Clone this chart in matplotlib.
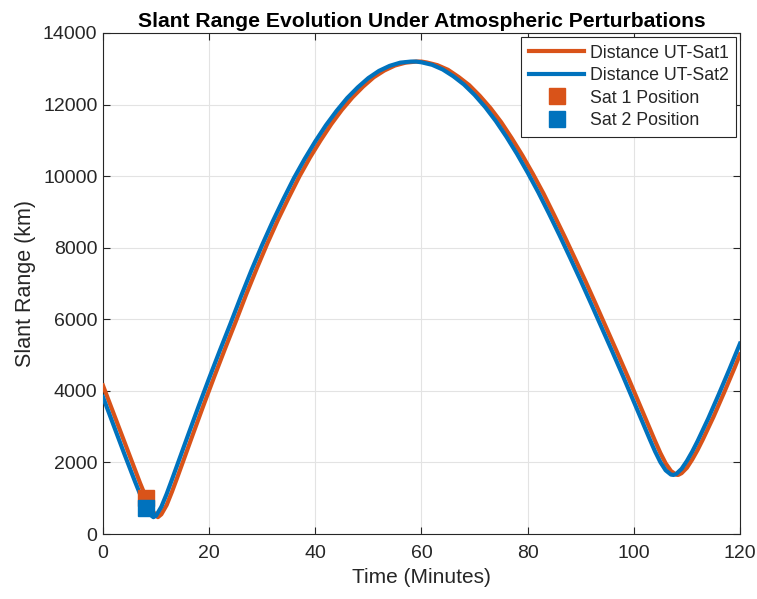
import matplotlib
matplotlib.use('Agg')
import matplotlib.pyplot as plt

# Time (minutes) and slant range (km) for UT-Sat2 (blue)
t_sat2 = [0, 2, 4, 6, 7, 8, 9, 9.5, 10, 11, 12, 13, 14, 16, 18, 20, 22, 24, 26, 28,
          30, 32, 34, 36, 38, 40, 42, 44, 46, 48, 50, 52, 54, 56, 58, 59, 60,
          62, 64, 66, 68, 70, 72, 74, 76, 78, 80, 82, 84, 86, 88, 90, 92, 94, 96,
          98, 100, 101, 102, 103, 104, 105, 106, 107, 107.5, 108, 109, 110, 111, 112,
          114, 116, 118, 120]
r_sat2 = [3830, 3040, 2250, 1480, 1110, 770, 530, 470, 510, 760, 1120, 1520, 1930, 2750, 3560, 4350, 5120, 5870, 6640, 7380,
          8080, 8740, 9360, 9950, 10480, 10970, 11420, 11820, 12180, 12480, 12740, 12940, 13080, 13170, 13200, 13200, 13180,
          13110, 12980, 12790, 12560, 12270, 11930, 11540, 11100, 10620, 10100, 9550, 8960, 8350, 7720, 7080, 6420, 5750, 5080,
          4400, 3700, 3350, 3000, 2650, 2310, 2010, 1780, 1660, 1650, 1680, 1820, 2040, 2300, 2590,
          3220, 3900, 4600, 5320]

# Time (minutes) and slant range (km) for UT-Sat1 (orange)
t_sat1 = [0, 2, 4, 6, 7, 8, 9, 10, 10.35, 11, 12, 13, 14, 15, 17, 19, 21, 23, 25, 27,
          29, 31, 33, 35, 37, 39, 41, 43, 45, 47, 49, 51, 53, 55, 57, 59, 60,
          61, 63, 65, 67, 69, 71, 73, 75, 77, 79, 81, 83, 85, 87, 89, 91, 93, 95,
          97, 99, 101, 102, 103, 104, 105, 106, 107, 108, 108.35, 109, 110, 111, 112,
          113, 115, 117, 119, 120]
r_sat1 = [4150, 3370, 2590, 1810, 1420, 1060, 730, 510, 470, 550, 810, 1180, 1580, 1990, 2810, 3620, 4410, 5180, 5930, 6700,
          7430, 8130, 8790, 9400, 9990, 10520, 11000, 11450, 11850, 12200, 12500, 12760, 12950, 13090, 13170, 13200, 13200,
          13175, 13100, 12970, 12770, 12540, 12240, 11900, 11510, 11060, 10580, 10060, 9510, 8910, 8300, 7670, 7030, 6370, 5700,
          5030, 4350, 3650, 3300, 2950, 2600, 2265, 1975, 1760, 1657, 1650, 1700, 1850, 2080, 2345,
          2640, 3270, 3950, 4650, 5020]

# satellite position markers
sat1_pos = (8.2, 1000)
sat2_pos = (8.2, 720)

orange = '#D95319'
blue = '#0072BD'
axcol = '#262626'

plt.rcParams['font.family'] = ['Liberation Sans', 'DejaVu Sans']

fig = plt.figure(figsize=(7.57, 5.99), dpi=100)
ax = fig.add_axes([0.136, 0.1085, 0.8415, 0.8365])

ax.plot(t_sat1, r_sat1, color=orange, linewidth=3, label='Distance UT-Sat1', zorder=3)
ax.plot(t_sat2, r_sat2, color=blue, linewidth=3, label='Distance UT-Sat2', zorder=4)
ax.plot([sat1_pos[0]], [sat1_pos[1]], 's', color=orange, markersize=11, label='Sat 1 Position', zorder=5)
ax.plot([sat2_pos[0]], [sat2_pos[1]], 's', color=blue, markersize=11, label='Sat 2 Position', zorder=6)

ax.set_xlim(0, 120)
ax.set_ylim(0, 14000)
ax.set_xticks(range(0, 121, 20))
ax.set_yticks(range(0, 14001, 2000))

ax.grid(True, color='#E3E3E3', linewidth=0.8)
ax.set_axisbelow(True)
for s in ax.spines.values():
    s.set_color(axcol)
    s.set_linewidth(0.8)
ax.tick_params(direction='in', top=True, right=True, colors=axcol, labelsize=14,
               length=5, width=0.8, pad=4)
ax.tick_params(axis='x', pad=8)
for lab in ax.get_xticklabels() + ax.get_yticklabels():
    lab.set_color(axcol)

ax.set_xlabel('Time (Minutes)', fontsize=15, color=axcol, labelpad=4)
ax.set_ylabel('Slant Range (km)', fontsize=15.5, color=axcol, labelpad=5)
ax.set_title('Slant Range Evolution Under Atmospheric Perturbations',
             fontsize=15.2, fontweight='bold', color='black', pad=4)

leg = ax.legend(loc='upper right', fontsize=12.8, frameon=True, fancybox=False,
                edgecolor=axcol, framealpha=1, borderaxespad=0.2,
                handlelength=3.1, labelspacing=0.31, borderpad=0.45, handletextpad=0.3)
leg.get_frame().set_linewidth(0.8)
for txt in leg.get_texts():
    txt.set_color(axcol)

fig.savefig('out.png', dpi=100)
